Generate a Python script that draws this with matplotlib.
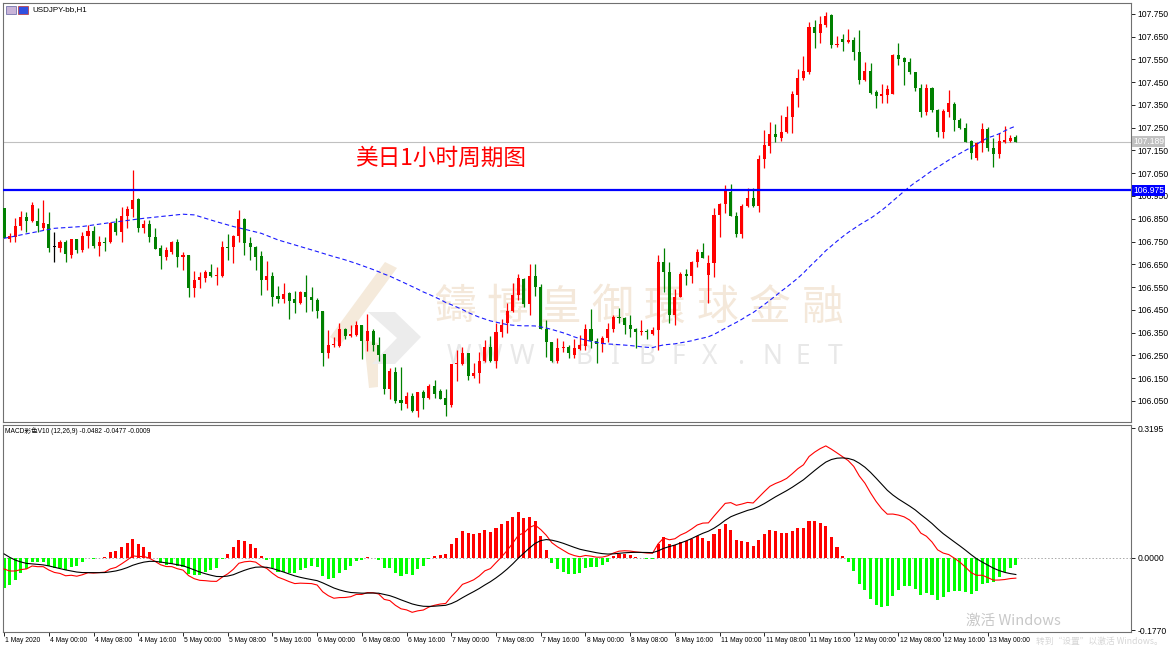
import numpy as np
import pandas as pd
import matplotlib
matplotlib.use("Agg")
import matplotlib.pyplot as plt
from matplotlib.patches import Polygon, Rectangle
from matplotlib.transforms import blended_transform_factory, ScaledTranslation

W, H = 1170, 650

# USDJPY-bb H1, one value per hourly bar (bar 0 = 1 May 16:00)
opens = [
    106.896, 106.760, 106.772, 106.820, 106.859, 106.840, 106.842, 106.808, 106.827, 106.725,
    106.723, 106.748, 106.692, 106.760, 106.713, 106.774, 106.796, 106.731, 106.750, 106.750,
    106.830, 106.794, 106.862, 106.892, 106.937, 106.808, 106.827, 106.769, 106.720, 106.684,
    106.706, 106.750, 106.684, 106.691, 106.547, 106.581, 106.588, 106.615, 106.600, 106.600,
    106.725, 106.725, 106.774, 106.848, 106.745, 106.725, 106.687, 106.581, 106.599, 106.512,
    106.499, 106.523, 106.496, 106.479, 106.530, 106.508, 106.493, 106.446, 106.262, 106.294,
    106.291, 106.364, 106.335, 106.340, 106.383, 106.315, 106.357, 106.296, 106.255, 106.101,
    106.178, 106.054, 106.036, 106.073, 106.005, 106.087, 106.061, 106.115, 106.093, 106.064,
    106.032, 106.211, 106.212, 106.259, 106.159, 106.171, 106.227, 106.285, 106.227, 106.351,
    106.391, 106.446, 106.515, 106.586, 106.476, 106.600, 106.549, 106.366, 106.310, 106.225,
    106.284, 106.285, 106.252, 106.278, 106.293, 106.366, 106.315, 106.298, 106.325, 106.366,
    106.420, 106.416, 106.383, 106.366, 106.354, 106.355, 106.344, 106.361, 106.659, 106.618,
    106.427, 106.508, 106.607, 106.600, 106.659, 106.703, 106.603, 106.654, 106.867, 106.915,
    106.969, 106.864, 106.782, 106.906, 106.943, 106.906, 107.113, 107.171, 107.223, 107.203,
    107.230, 107.296, 107.394, 107.467, 107.497, 107.694, 107.664, 107.702, 107.746, 107.615,
    107.640, 107.625, 107.636, 107.584, 107.460, 107.499, 107.406, 107.391, 107.394, 107.397,
    107.570, 107.555, 107.538, 107.494, 107.426, 107.321, 107.423, 107.328, 107.233, 107.318,
    107.354, 107.284, 107.247, 107.192, 107.116, 107.182, 107.245, 107.163, 107.133, 107.189,
    107.192, 107.208]
highs = [
    106.896, 106.789, 106.852, 106.886, 106.878, 106.925, 106.896, 106.933, 106.881, 106.794,
    106.757, 106.757, 106.760, 106.760, 106.794, 106.823, 106.818, 106.774, 106.772, 106.837,
    106.852, 106.903, 106.906, 107.065, 106.940, 106.845, 106.845, 106.808, 106.735, 106.725,
    106.752, 106.760, 106.706, 106.691, 106.621, 106.618, 106.625, 106.650, 106.640, 106.752,
    106.783, 106.779, 106.889, 106.855, 106.772, 106.731, 106.710, 106.666, 106.618, 106.555,
    106.569, 106.526, 106.534, 106.534, 106.603, 106.552, 106.501, 106.446, 106.362, 106.332,
    106.394, 106.369, 106.383, 106.402, 106.383, 106.432, 106.364, 106.332, 106.255, 106.196,
    106.200, 106.200, 106.090, 106.086, 106.090, 106.098, 106.124, 106.142, 106.101, 106.101,
    106.211, 106.274, 106.288, 106.262, 106.218, 106.263, 106.318, 106.335, 106.391, 106.408,
    106.479, 106.567, 106.606, 106.588, 106.650, 106.650, 106.564, 106.405, 106.310, 106.325,
    106.315, 106.296, 106.322, 106.339, 106.386, 106.454, 106.325, 106.337, 106.391, 106.427,
    106.457, 106.420, 106.427, 106.369, 106.405, 106.366, 106.376, 106.691, 106.720, 106.659,
    106.540, 106.618, 106.630, 106.665, 106.717, 106.742, 106.691, 106.896, 106.918, 106.999,
    107.003, 106.881, 106.914, 106.984, 106.984, 107.130, 107.240, 107.274, 107.266, 107.306,
    107.346, 107.412, 107.508, 107.565, 107.716, 107.724, 107.741, 107.760, 107.748, 107.655,
    107.661, 107.684, 107.647, 107.680, 107.540, 107.533, 107.416, 107.441, 107.438, 107.573,
    107.624, 107.562, 107.558, 107.497, 107.441, 107.441, 107.431, 107.332, 107.332, 107.416,
    107.362, 107.291, 107.269, 107.196, 107.189, 107.269, 107.255, 107.203, 107.226, 107.259,
    107.218, 107.218]
lows = [
    106.764, 106.750, 106.750, 106.801, 106.794, 106.837, 106.794, 106.801, 106.706, 106.662,
    106.706, 106.662, 106.676, 106.698, 106.706, 106.720, 106.720, 106.688, 106.709, 106.742,
    106.779, 106.750, 106.808, 106.859, 106.794, 106.786, 106.750, 106.716, 106.628, 106.669,
    106.694, 106.637, 106.625, 106.505, 106.508, 106.544, 106.574, 106.593, 106.559, 106.596,
    106.669, 106.654, 106.750, 106.691, 106.669, 106.625, 106.515, 106.537, 106.467, 106.479,
    106.482, 106.411, 106.435, 106.476, 106.442, 106.445, 106.413, 106.203, 106.237, 106.288,
    106.288, 106.320, 106.332, 106.335, 106.233, 106.269, 106.271, 106.227, 106.080, 106.057,
    106.039, 106.010, 106.017, 106.003, 105.981, 106.014, 106.057, 106.061, 106.057, 105.985,
    106.025, 106.139, 106.208, 106.142, 106.149, 106.130, 106.222, 106.222, 106.196, 106.329,
    106.350, 106.442, 106.493, 106.464, 106.427, 106.512, 106.366, 106.241, 106.222, 106.215,
    106.266, 106.237, 106.237, 106.273, 106.273, 106.281, 106.218, 106.266, 106.310, 106.354,
    106.391, 106.342, 106.332, 106.281, 106.339, 106.320, 106.339, 106.273, 106.530, 106.391,
    106.383, 106.508, 106.559, 106.567, 106.640, 106.676, 106.482, 106.596, 106.772, 106.874,
    106.860, 106.772, 106.767, 106.903, 106.903, 106.879, 107.075, 107.138, 107.189, 107.192,
    107.225, 107.228, 107.343, 107.460, 107.485, 107.599, 107.621, 107.694, 107.599, 107.606,
    107.587, 107.621, 107.548, 107.441, 107.455, 107.397, 107.338, 107.357, 107.357, 107.397,
    107.526, 107.438, 107.485, 107.412, 107.299, 107.306, 107.318, 107.211, 107.206, 107.299,
    107.236, 107.245, 107.189, 107.113, 107.108, 107.145, 107.148, 107.079, 107.119, 107.182,
    107.189, 107.186]
closes = [
    106.764, 106.774, 106.820, 106.857, 106.840, 106.911, 106.816, 106.830, 106.723, 106.725,
    106.748, 106.695, 106.760, 106.713, 106.774, 106.796, 106.731, 106.750, 106.745, 106.830,
    106.794, 106.862, 106.892, 106.933, 106.808, 106.827, 106.772, 106.719, 106.687, 106.713,
    106.750, 106.684, 106.690, 106.547, 106.581, 106.596, 106.618, 106.600, 106.602, 106.725,
    106.722, 106.774, 106.848, 106.745, 106.725, 106.684, 106.581, 106.599, 106.508, 106.496,
    106.520, 106.490, 106.479, 106.530, 106.505, 106.493, 106.446, 106.262, 106.294, 106.296,
    106.364, 106.337, 106.344, 106.383, 106.315, 106.359, 106.296, 106.252, 106.101, 106.181,
    106.049, 106.039, 106.071, 106.005, 106.090, 106.061, 106.115, 106.080, 106.058, 106.032,
    106.211, 106.212, 106.259, 106.159, 106.174, 106.227, 106.285, 106.227, 106.351, 106.383,
    106.446, 106.515, 106.589, 106.476, 106.600, 106.549, 106.366, 106.307, 106.225, 106.284,
    106.285, 106.262, 106.284, 106.296, 106.366, 106.315, 106.298, 106.328, 106.366, 106.420,
    106.413, 106.383, 106.366, 106.351, 106.355, 106.353, 106.361, 106.659, 106.618, 106.427,
    106.508, 106.606, 106.600, 106.659, 106.706, 106.679, 106.654, 106.867, 106.915, 106.977,
    106.864, 106.782, 106.906, 106.943, 106.906, 107.113, 107.174, 107.223, 107.208, 107.233,
    107.296, 107.398, 107.470, 107.499, 107.694, 107.664, 107.705, 107.741, 107.614, 107.617,
    107.625, 107.636, 107.581, 107.460, 107.499, 107.401, 107.391, 107.397, 107.420, 107.570,
    107.552, 107.538, 107.494, 107.426, 107.321, 107.423, 107.328, 107.233, 107.324, 107.357,
    107.284, 107.247, 107.189, 107.138, 107.182, 107.245, 107.160, 107.135, 107.192, 107.196,
    107.206, 107.189]

time_labels = ["1 May 2020", "4 May 00:00", "4 May 08:00", "4 May 16:00", "5 May 00:00",
               "5 May 08:00", "5 May 16:00", "6 May 00:00", "6 May 08:00", "6 May 16:00",
               "7 May 00:00", "7 May 08:00", "7 May 16:00", "8 May 00:00", "8 May 08:00",
               "8 May 16:00", "11 May 00:00", "11 May 08:00", "11 May 16:00", "12 May 00:00",
               "12 May 08:00", "12 May 16:00", "13 May 00:00"]
bars_per_label = 8

level = 106.975            # blue horizontal line
ma_period = 60             # blue dashed SMA
# the SMA needs 59 bars of history that are off screen, so its first stretch is read off the chart
ma_head_bars = [0, 3, 9, 14, 19, 25, 32, 34, 38, 41, 46, 49, 56]
ma_head_values = [106.764, 106.779, 106.808, 106.816, 106.833, 106.852, 106.870,
                  106.867, 106.837, 106.816, 106.786, 106.757, 106.706]
# MACD(12,26,9) state at bar 0
ema12_start, ema26_start = 106.862, 106.889
dea_start = 0.010

title_cn = "美日1小时周期图"
macd_caption = "MACD彩色V10 (12,26,9) -0.0482 -0.0477 -0.0009"

plt.rcParams['font.family'] = ['Liberation Sans', 'Noto Sans CJK SC', 'DejaVu Sans']


def fig_rect(left, top, right, bottom):
    return [left / W, 1 - bottom / H, (right - left) / W, (bottom - top) / H]


def fig_xy(x, y):
    return x / W, 1 - y / H


o = np.array(opens)
h = np.array(highs)
l = np.array(lows)
c = np.array(closes)
n = len(c)
bars = np.arange(n)

# indicators
ma = pd.Series(c).rolling(ma_period).mean().to_numpy()
ema12 = np.empty(n)
ema26 = np.empty(n)
ema12[0], ema26[0] = ema12_start, ema26_start
for i in range(1, n):
    ema12[i] = ema12[i - 1] + 2 / 13 * (c[i] - ema12[i - 1])
    ema26[i] = ema26[i - 1] + 2 / 27 * (c[i] - ema26[i - 1])
dif = ema12 - ema26
dea = np.empty(n)
dea[0] = dea_start
for i in range(1, n):
    dea[i] = dea[i - 1] + 0.2 * (dif[i] - dea[i - 1])
hist = 2 * (dif - dea)

fig = plt.figure(figsize=(W / 100, H / 100), dpi=100, facecolor='white')

# watermark behind the chart
wm_grey = '#ececec'
wm_beige = '#f5eadb'
fig.add_artist(Polygon([fig_xy(385, 262), fig_xy(397, 268), fig_xy(341, 344), fig_xy(330, 337)],
                       closed=True, transform=fig.transFigure, fc=wm_beige, ec='none', zorder=-2))
fig.add_artist(Polygon([fig_xy(364, 340), fig_xy(378, 343), fig_xy(378, 387), fig_xy(369, 388)],
                       closed=True, transform=fig.transFigure, fc=wm_beige, ec='none', zorder=-2))
fig.add_artist(Polygon([fig_xy(368, 312), fig_xy(395, 312), fig_xy(421, 337), fig_xy(395, 364),
                        fig_xy(372, 364), fig_xy(397, 338)],
                       closed=True, transform=fig.transFigure, fc=wm_grey, ec='none', zorder=-2))
for k, ch in enumerate("鑄博皇御環球金融"):
    fig.text(*fig_xy(455 + 52.5 * k, 308), ch, fontsize=30, color='#f4e8da',
             family='Noto Sans CJK TC', ha='center', va='center', zorder=-1)
for k, ch in enumerate("WWW.BIBFX.NET"):
    fig.text(*fig_xy(459 + 31.3 * k, 357), ch, fontsize=19, color='#e8e8e8',
             family='Noto Sans', ha='center', va='center', zorder=-1)

ax1 = fig.add_axes(fig_rect(3, 3, 1131, 422), facecolor='none')
ax2 = fig.add_axes(fig_rect(3, 425, 1131, 632), facecolor='none', sharex=ax1)

# candles: red = up, green = down
colors = np.where(c > o, '#ff0000', np.where(c < o, '#008000', '#000000'))
ax1.vlines(bars, np.minimum(l, np.minimum(o, c)), np.maximum(h, np.maximum(o, c)),
           colors=colors, lw=0.9, zorder=3)
ax1.bar(bars, np.maximum(np.abs(c - o), 0.004), bottom=np.minimum(o, c), width=0.55,
        color=colors, lw=0, zorder=3)

ma_x = np.concatenate([ma_head_bars, bars[ma_period - 1:]])
ma_y = np.concatenate([ma_head_values, ma[ma_period - 1:]])
ax1.plot(ma_x, ma_y, color='#1a1aff', lw=0.8, ls=(0, (4, 2.5)), zorder=4)

ax1.axhline(c[-1], color='#c0c0c0', lw=0.8, zorder=1)
ax1.axhline(level, color='#0000ff', lw=1.6, zorder=5)

ax1.set_xlim(-0.2, 201.6)
ax1.set_ylim(105.957, 107.798)
price_ticks = np.arange(106.05, 107.76, 0.1)
ax1.yaxis.tick_right()
ax1.set_yticks(price_ticks)
ax1.set_yticklabels([f'{v:.3f}' for v in price_ticks])
ax1.tick_params(axis='y', direction='out', length=3, width=0.6, pad=1.5, labelsize=6.2)
ax1.tick_params(axis='x', bottom=False, labelbottom=False)

trans1 = blended_transform_factory(ax1.transAxes, ax1.transData)
ax1.text(1.002, level, f'{level:.3f}', transform=trans1, ha='left', va='center',
         fontsize=6.2, color='white', clip_on=False, zorder=10,
         bbox=dict(boxstyle='square,pad=0.12', fc='#0000ff', ec='none'))
ax1.text(1.002, c[-1], f'{c[-1]:.3f}', transform=trans1, ha='left', va='center',
         fontsize=6.2, color='white', clip_on=False, zorder=10,
         bbox=dict(boxstyle='square,pad=0.12', fc='#c0c0c0', ec='none'))

# MACD pane
ax2.axhline(0, color='#a8a8a8', lw=0.7, ls=(0, (1.5, 2)), zorder=1)
ax2.bar(bars, hist, width=0.55, color=np.where(hist > 0, '#ff0000', '#00ff00'), lw=0, zorder=2)
ax2.plot(bars, dif, color='#ff0000', lw=0.8, zorder=3)
ax2.plot(bars, dea, color='#000000', lw=0.8, zorder=3)
ax2.set_ylim(-0.1819, 0.3269)
ax2.yaxis.tick_right()
ax2.set_yticks([0.3195, 0.0, -0.177])
ax2.set_yticklabels(['0.3195', '0.0000', '-0.1770'])
ax2.tick_params(axis='y', direction='out', length=3, width=0.6, pad=1.5, labelsize=6.2)

time_ticks = bars[::bars_per_label][:len(time_labels)]
ax2.set_xticks(time_ticks)
ax2.set_xticklabels(time_labels, ha='left')
ax2.tick_params(axis='x', direction='out', length=3, width=0.6, pad=0.8, labelsize=4.9)
shift = ScaledTranslation(1.2 / 100, 0, fig.dpi_scale_trans)
for lbl in ax2.get_xticklabels():
    lbl.set_transform(lbl.get_transform() + shift)

for ax in (ax1, ax2):
    for side in ('left', 'right', 'top', 'bottom'):
        ax.spines[side].set_color('#707070')
        ax.spines[side].set_linewidth(0.8)

# texts
fig.text(*fig_xy(355, 158), title_cn, fontsize=16.3, color='#ff0000',
         family='Noto Sans CJK SC', va='center')
fig.text(*fig_xy(32, 10), 'USDJPY-bb,H1', fontsize=5.8, va='center')
fig.add_artist(Rectangle(fig_xy(6, 14), 10 / W, 8 / H, transform=fig.transFigure,
                         fc='#c8b4d8', ec='#6060a0', lw=0.5))
fig.add_artist(Rectangle(fig_xy(18, 14), 10 / W, 8 / H, transform=fig.transFigure,
                         fc='#3050e0', ec='#c03030', lw=0.5))
fig.text(*fig_xy(5, 431), macd_caption, fontsize=4.8, va='center')
fig.text(*fig_xy(966, 621), '激活 Windows', fontsize=10.5, color='#c8c8c8',
         family=['Noto Sans CJK SC', 'DejaVu Sans'], va='center')
fig.text(*fig_xy(1036, 641), '转到“设置”以激活 Windows。', fontsize=6.3, color='#d6d6d6',
         family=['Noto Sans CJK SC', 'DejaVu Sans'], va='center', ha='left')

fig.savefig('out.png', dpi=100, facecolor='white')
